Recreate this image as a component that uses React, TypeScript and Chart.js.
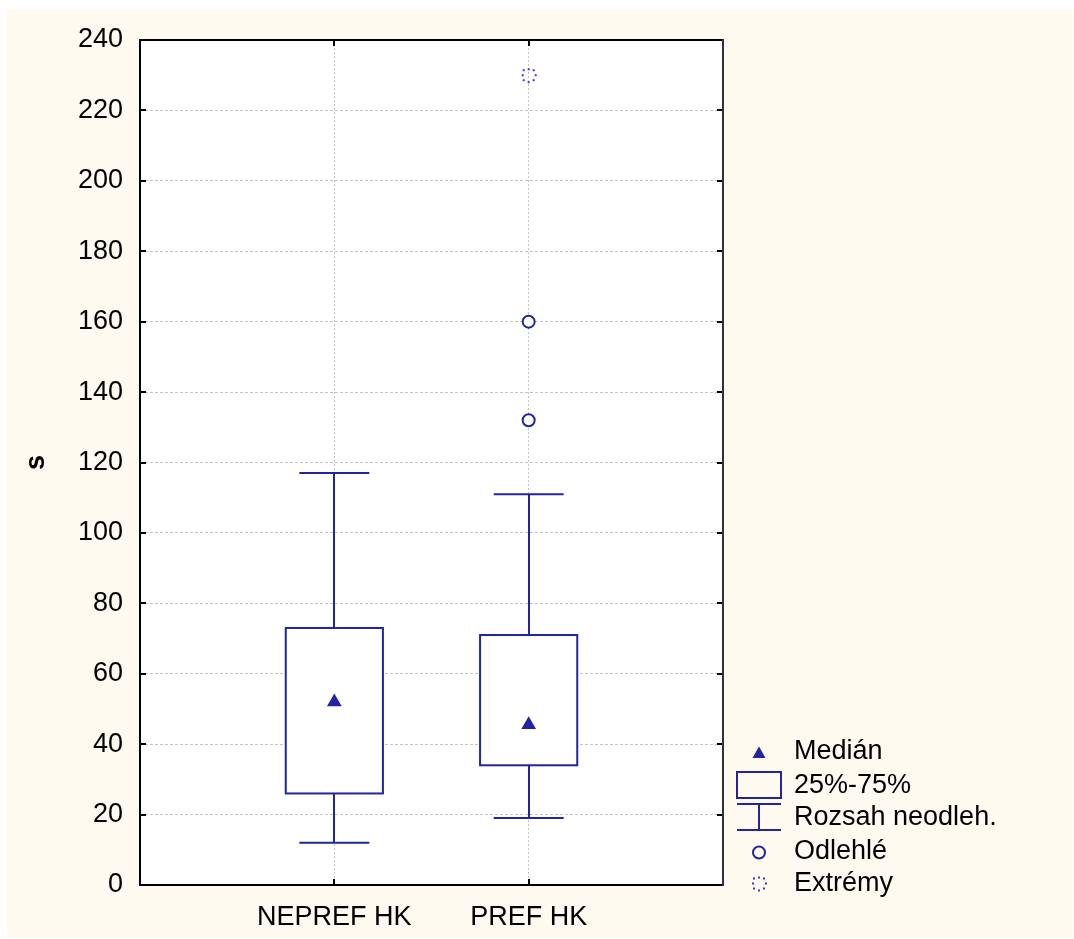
import React, { useEffect, useRef } from "react";
import { Chart, registerables } from "chart.js";

Chart.register(...registerables);

const categories = ["NEPREF HK", "PREF HK"];
const whiskerLow = [12, 19];
const q1 = [26, 34];
const medians = [52, 45.5];
const q3 = [73, 71];
const whiskerHigh = [117, 111];
const outlierCat = [2, 2];
const outlierVals = [132, 160];
const extremeCat = [2];
const extremeVals = [230];
const legendLabels = ["Medián", "25%-75%", "Rozsah neodleh.", "Odlehlé", "Extrémy"];
const yAxisTitle = "s";

const BLUE = "#2323a3";
const FONT = "Liberation Sans, Arial, sans-serif";

function makeExtremeImage(color: string) {
  const c = document.createElement("canvas");
  c.width = 18;
  c.height = 18;
  const g = c.getContext("2d")!;
  g.fillStyle = color;
  for (let k = 0; k < 8; k++) {
    const a = (k * Math.PI) / 4;
    const x = 9 + Math.cos(a) * 6.5;
    const y = 9 + Math.sin(a) * 6.5;
    g.fillRect(Math.round(x - 1), Math.round(y - 1), 2, 2);
  }
  return c;
}

export default function App() {
  const ref = useRef<HTMLCanvasElement | null>(null);

  useEffect(() => {
    if (!ref.current) return;
    const extremeImg = makeExtremeImage("#3a3ac0");

    const plugin = {
      id: "boxplotPlugin",
      beforeDraw(chart: any) {
        const { ctx, chartArea: a, width, height } = chart;
        ctx.save();
        ctx.fillStyle = "#ffffff";
        ctx.fillRect(0, 0, width, height);
        ctx.fillStyle = "#fffaf0";
        ctx.fillRect(7, 10, 1066, 928);
        ctx.fillStyle = "#ffffff";
        ctx.fillRect(a.left, a.top, a.right - a.left, a.bottom - a.top);
        ctx.restore();
      },
      beforeDatasetsDraw(chart: any) {
        const { ctx } = chart;
        const xs = chart.scales.x;
        const ys = chart.scales.y;
        ctx.save();
        ctx.strokeStyle = BLUE;
        ctx.lineWidth = 2;
        categories.forEach((_, i) => {
          const c = i + 1;
          const xc = Math.round(xs.getPixelForValue(c));
          const xl = xs.getPixelForValue(c - 0.25);
          const xr = xs.getPixelForValue(c + 0.25);
          const cl = xs.getPixelForValue(c - 0.18);
          const cr = xs.getPixelForValue(c + 0.18);
          const yLo = ys.getPixelForValue(whiskerLow[i]);
          const yQ1 = ys.getPixelForValue(q1[i]);
          const yQ3 = ys.getPixelForValue(q3[i]);
          const yHi = ys.getPixelForValue(whiskerHigh[i]);
          ctx.beginPath();
          ctx.moveTo(xc, yHi);
          ctx.lineTo(xc, yQ3);
          ctx.moveTo(xc, yQ1);
          ctx.lineTo(xc, yLo);
          ctx.moveTo(cl, yHi);
          ctx.lineTo(cr, yHi);
          ctx.moveTo(cl, yLo);
          ctx.lineTo(cr, yLo);
          ctx.stroke();
          ctx.fillStyle = "#ffffff";
          ctx.fillRect(xl, yQ3, xr - xl, yQ1 - yQ3);
          ctx.strokeRect(xl, yQ3, xr - xl, yQ1 - yQ3);
        });
        ctx.restore();
      },
      afterDraw(chart: any) {
        const { ctx, chartArea: a } = chart;
        const xs = chart.scales.x;
        const ys = chart.scales.y;
        ctx.save();
        // inner ticks
        ctx.strokeStyle = "#000";
        ctx.lineWidth = 2;
        ctx.beginPath();
        ys.ticks.forEach((t: any) => {
          const y = Math.round(ys.getPixelForValue(t.value));
          ctx.moveTo(a.left, y);
          ctx.lineTo(a.left + 6, y);
          ctx.moveTo(a.right, y);
          ctx.lineTo(a.right - 6, y);
        });
        categories.forEach((_, i) => {
          const x = Math.round(xs.getPixelForValue(i + 1));
          ctx.moveTo(x, a.bottom);
          ctx.lineTo(x, a.bottom - 6);
          ctx.moveTo(x, a.top);
          ctx.lineTo(x, a.top + 6);
        });
        ctx.stroke();
        // frame
        ctx.beginPath();
        ctx.moveTo(a.right, a.top);
        ctx.lineTo(a.left, a.top);
        ctx.lineTo(a.left, a.bottom);
        ctx.lineTo(a.right, a.bottom);
        ctx.stroke();
        ctx.strokeStyle = "#333";
        ctx.beginPath();
        ctx.moveTo(a.right, a.top - 1);
        ctx.lineTo(a.right, a.bottom + 1);
        ctx.stroke();

        // legend
        const sx = 759;
        const tx = 794;
        const rows = [752, 786, 818, 852, 884];
        ctx.fillStyle = "#000";
        ctx.font = `27px ${FONT}`;
        ctx.textBaseline = "middle";
        ctx.textAlign = "left";
        legendLabels.forEach((l, i) => ctx.fillText(l, tx, rows[i]));
        // median triangle
        ctx.fillStyle = BLUE;
        ctx.beginPath();
        ctx.moveTo(sx, 746.5);
        ctx.lineTo(sx + 6.5, 758);
        ctx.lineTo(sx - 6.5, 758);
        ctx.closePath();
        ctx.fill();
        ctx.strokeStyle = BLUE;
        ctx.lineWidth = 2;
        ctx.strokeRect(737, 772, 44, 26);
        ctx.beginPath();
        ctx.moveTo(737, 804);
        ctx.lineTo(781, 804);
        ctx.moveTo(737, 830);
        ctx.lineTo(781, 830);
        ctx.moveTo(sx, 804);
        ctx.lineTo(sx, 830);
        ctx.stroke();
        ctx.beginPath();
        ctx.arc(sx, 852.5, 6, 0, Math.PI * 2);
        ctx.stroke();
        ctx.drawImage(extremeImg, sx - 9, 883.5 - 9);
        ctx.restore();
      },
    };

    const chart = new Chart(ref.current, {
      type: "scatter",
      data: {
        datasets: [
          {
            label: "Medián",
            data: medians.map((v, i) => ({ x: i + 1, y: v })),
            pointStyle: "triangle",
            pointRadius: 8.5,
            backgroundColor: BLUE,
            borderColor: BLUE,
            borderWidth: 0,
          },
          {
            label: "Odlehlé",
            data: outlierVals.map((v, i) => ({ x: outlierCat[i], y: v })),
            pointStyle: "circle",
            pointRadius: 6,
            backgroundColor: "#ffffff",
            borderColor: BLUE,
            borderWidth: 2,
          },
          {
            label: "Extrémy",
            data: extremeVals.map((v, i) => ({ x: extremeCat[i], y: v })),
            pointStyle: extremeImg as any,
            pointRadius: 9,
            backgroundColor: BLUE,
            borderColor: BLUE,
          },
        ],
      },
      options: {
        animation: false,
        responsive: false,
        events: [],
        layout: { padding: { top: 40, right: 351, bottom: 0, left: 0 } },
        plugins: { legend: { display: false }, tooltip: { enabled: false } },
        scales: {
          x: {
            type: "linear",
            min: 0,
            max: 3,
            afterFit: (s: any) => {
              s.height = 54;
            },
            afterBuildTicks: (s: any) => {
              s.ticks = [0, 1, 2, 3].map((v) => ({ value: v }));
            },
            ticks: {
              autoSkip: false,
              maxRotation: 0,
              padding: 16,
              color: "#000",
              font: { family: FONT, size: 27 },
              callback: (v: any) => categories[Number(v) - 1] ?? "",
            },
            grid: {
              drawTicks: false,
              lineWidth: 1,
              color: (c: any) => (c.tick && (c.tick.value === 1 || c.tick.value === 2) ? "#c4c4c4" : "rgba(0,0,0,0)"),
            },
            border: { display: false, dash: [2, 2] },
          },
          y: {
            type: "linear",
            min: 0,
            max: 240,
            afterFit: (s: any) => {
              s.width = 140;
            },
            ticks: {
              stepSize: 20,
              padding: 17,
              color: "#000",
              font: { family: FONT, size: 27 },
            },
            title: {
              display: true,
              text: yAxisTitle,
              color: "#000",
              font: { family: FONT, size: 27, weight: "bold" },
              padding: { top: 20, bottom: 0 },
            },
            grid: {
              drawTicks: false,
              lineWidth: 1,
              color: (c: any) => (c.tick && c.tick.value > 0 && c.tick.value < 240 ? "#c4c4c4" : "rgba(0,0,0,0)"),
            },
            border: { display: false, dash: [3, 2] },
          },
        },
      },
      plugins: [plugin],
    } as any);

    return () => chart.destroy();
  }, []);

  return (
    <div style={{ position: "absolute", left: 0, top: 0, width: 1074, height: 939 }}>
      <canvas ref={ref} width={1074} height={939} style={{ display: "block" }} />
    </div>
  );
}
